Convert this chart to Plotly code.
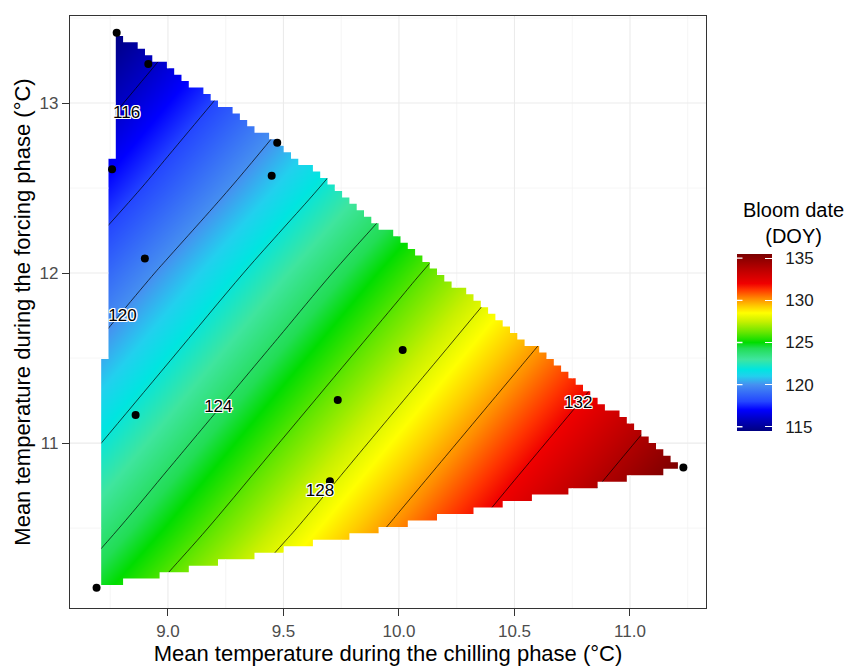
import numpy as np
import plotly.graph_objects as go

# ---------------- data ----------------
# modelled bloom date surface (DOY) on a coarse grid
chill_grid = [8.5, 9.0, 9.5, 10.0, 10.5, 11.0, 11.5]          # °C (x)
force_grid = [10.0, 10.5, 11.0, 11.5, 12.0, 12.5, 13.0, 13.5]  # °C (y)
bloom_grid = [
    [124.2, 126.8, 129.4, 132.0, 134.6, 137.2, 139.8],
    [122.5, 125.1, 127.7, 130.3, 132.9, 135.5, 138.1],
    [120.9, 123.5, 126.1, 128.7, 131.3, 133.9, 136.5],
    [119.3, 121.9, 124.5, 127.1, 129.7, 132.3, 134.9],
    [117.7, 120.3, 122.9, 125.5, 128.1, 130.7, 133.3],
    [116.0, 118.6, 121.2, 123.8, 126.4, 129.0, 131.6],
    [114.4, 117.0, 119.6, 122.2, 124.8, 127.4, 130.0],
    [112.8, 115.4, 118.0, 120.6, 123.2, 125.8, 128.4],
]

# observed seasons (black points)
obs_chill = [8.778, 8.915, 8.758, 9.473, 9.449, 8.900, 8.860, 9.735, 10.016, 9.701, 8.691, 11.231]
obs_force = [13.414, 13.229, 12.610, 12.767, 12.572, 12.086, 11.165, 11.253, 11.547, 10.776, 10.149, 10.857]

# contour labels
label_levels = [116, 120, 124, 128, 132]
label_chill = [8.821, 8.803, 9.218, 9.658, 10.776]
label_force = [12.936, 11.745, 11.209, 10.715, 11.233]

# axis ticks
x_ticks = [9.0, 9.5, 10.0, 10.5, 11.0]
x_minor = [8.75, 9.25, 9.75, 10.25, 10.75, 11.25]
y_ticks = [11, 12, 13]
y_minor = [10.5, 11.5, 12.5, 13.5]
cbar_ticks = [115, 120, 125, 130, 135]

# colour ramp (DOY value -> colour)
ramp_values = [114.5, 116.0, 117.0, 118.0, 120.0, 121.0, 121.8, 123.0, 124.3, 125.0,
               126.2, 127.5, 128.5, 129.3, 130.2, 131.3, 132.0, 133.5, 135.5]
ramp_colors = ["#000080", "#0000C8", "#0000FF", "#2446FF", "#4690F0", "#22D0EE", "#00E5E0",
               "#3FE59E", "#22DD55", "#00DD00", "#66E600", "#C8F000", "#FFFF00", "#FFCC00",
               "#FF8C00", "#FF3300", "#F00000", "#C00000", "#7A0000"]

# ---------------- styling / geometry ----------------
FONT = "Liberation Sans, Arial, sans-serif"
X_RANGE = [8.576, 11.329]
Y_RANGE = [10.03, 13.512]
ZMIN, ZMAX = ramp_values[0], ramp_values[-1]
colorscale = [[(v - ZMIN) / (ZMAX - ZMIN), c] for v, c in zip(ramp_values, ramp_colors)]

# plot area in pixels
M_L, M_R, M_T, M_B = 70, 146, 16, 58
W, H = 852, 666
PW, PH = W - M_L - M_R, H - M_T - M_B

# colour bar geometry
CB_X = (737 - M_L) / PW
CB_LEN = 177
CB_Y = 0.4485
CB_TICK = 7

# raster cell layout of the prediction grid
CELL_X0, CELL_DX, N_COLS = 8.711, 0.0316, 80
CELL_Y0, CELL_DY = 10.127, 0.038

# convex hull of the observations (prediction domain)
pts = sorted(zip(obs_chill, obs_force))


def cross(o, a, b):
    return (a[0] - o[0]) * (b[1] - o[1]) - (a[1] - o[1]) * (b[0] - o[0])


lower, upper = [], []
for p in pts:
    while len(lower) >= 2 and cross(lower[-2], lower[-1], p) <= 0:
        lower.pop()
    lower.append(p)
for p in reversed(pts):
    while len(upper) >= 2 and cross(upper[-2], upper[-1], p) <= 0:
        upper.pop()
    upper.append(p)
upper = upper[::-1]
lo_x, lo_y = np.array(lower).T
up_x, up_y = np.array(upper).T

cols = []  # (x_left, x_right, y_bottom, y_top)
for i in range(N_COLS):
    xl = CELL_X0 + i * CELL_DX
    xr = xl + CELL_DX
    xc = xl + CELL_DX / 2
    if xc < lo_x[0] or xc > lo_x[-1]:
        continue
    ylo = np.interp(xc, lo_x, lo_y)
    yhi = np.interp(xc, up_x, up_y)
    jlo = int(np.ceil((ylo - CELL_Y0) / CELL_DY - 0.5))
    jhi = int(np.floor((yhi - CELL_Y0) / CELL_DY - 0.5))
    if jhi >= jlo:
        cols.append((xl, xr, CELL_Y0 + jlo * CELL_DY, CELL_Y0 + (jhi + 1) * CELL_DY))

xs, xe = cols[0][0], cols[-1][1]
BX0, BX1 = X_RANGE[0] - 1, X_RANGE[1] + 1
BY0, BY1 = Y_RANGE[0] - 1, Y_RANGE[1] + 1
ys = (cols[0][2] + cols[0][3]) / 2

# white mask outside the raster (outer box with a clockwise hole)
mx = [BX0, BX1, BX1, BX0, BX0, xs, xs]
my = [BY0, BY0, BY1, BY1, ys, ys, cols[0][3]]
for xl, xr, yb, yt in cols:
    mx += [xl, xr]
    my += [yt, yt]
for xl, xr, yb, yt in reversed(cols):
    mx += [xr, xl]
    my += [yb, yb]
mx += [xs, BX0, BX0]
my += [ys, ys, BY0]


# grid-line pieces lying outside the raster
def vertical_pieces(values):
    gx, gy = [], []
    for c in values:
        hit = [col for col in cols if col[0] <= c < col[1]]
        if hit:
            _, _, yb, yt = hit[0]
            gx += [c, c, None, c, c, None]
            gy += [BY0, yb, None, yt, BY1, None]
        else:
            gx += [c, c, None]
            gy += [BY0, BY1, None]
    return gx, gy


def horizontal_pieces(values):
    gx, gy = [], []
    for c in values:
        segs = [[BX0, xs]]
        for xl, xr, yb, yt in cols:
            if yb <= c <= yt:
                continue
            if abs(segs[-1][1] - xl) < 1e-9:
                segs[-1][1] = xr
            else:
                segs.append([xl, xr])
        if abs(segs[-1][1] - xe) < 1e-9:
            segs[-1][1] = BX1
        else:
            segs.append([xe, BX1])
        for a, b in segs:
            gx += [a, b, None]
            gy += [c, c, None]
    return gx, gy


MAJOR_GRID = "#EBEBEB"
MINOR_GRID = "#F2F2F2"

fig = go.Figure()

fig.add_trace(go.Heatmap(
    x=chill_grid, y=force_grid, z=bloom_grid, zsmooth="best",
    zmin=ZMIN, zmax=ZMAX, colorscale=colorscale, hoverinfo="skip",
    colorbar=dict(
        x=CB_X, xanchor="left", xpad=0, y=CB_Y, yanchor="middle", ypad=0,
        len=CB_LEN, lenmode="pixels", thickness=35, outlinewidth=0,
        tickvals=cbar_ticks, ticktext=["\u00a0\u00a0" + str(v) for v in cbar_ticks],
        ticks="inside", ticklen=CB_TICK, tickcolor="white", tickwidth=1.3,
        tickfont=dict(family=FONT, size=17, color="#1A1A1A"),
    ),
))

fig.add_trace(go.Contour(
    x=chill_grid, y=force_grid, z=bloom_grid,
    contours=dict(start=116, end=134, size=2, coloring="none", showlabels=False),
    line=dict(color="black", width=0.7), showscale=False, hoverinfo="skip",
))

fig.add_trace(go.Scatter(
    x=mx, y=my, mode="lines", fill="toself", fillcolor="white",
    line=dict(width=0, color="white"), hoverinfo="skip", showlegend=False,
))

gx, gy = vertical_pieces(x_minor)
hx, hy = horizontal_pieces(y_minor)
fig.add_trace(go.Scatter(x=gx + hx, y=gy + hy, mode="lines",
                         line=dict(color=MINOR_GRID, width=0.8),
                         hoverinfo="skip", showlegend=False))
gx, gy = vertical_pieces(x_ticks)
hx, hy = horizontal_pieces(y_ticks)
fig.add_trace(go.Scatter(x=gx + hx, y=gy + hy, mode="lines",
                         line=dict(color=MAJOR_GRID, width=1.1),
                         hoverinfo="skip", showlegend=False))

fig.add_trace(go.Scatter(
    x=obs_chill, y=obs_force, mode="markers",
    marker=dict(color="black", size=8), hoverinfo="skip", showlegend=False,
))

fig.add_trace(go.Scatter(
    x=label_chill, y=label_force, mode="text", text=[str(v) for v in label_levels],
    textfont=dict(family=FONT, size=17, color="black",
                  shadow="1px 1px 0 white, -1px -1px 0 white, 1px -1px 0 white, -1px 1px 0 white, 0 1px 0 white, 0 -1px 0 white, 1px 0 0 white, -1px 0 0 white"),
    hoverinfo="skip", showlegend=False,
))

axis_common = dict(
    automargin=False,
    showline=True, linecolor="#333333", linewidth=1.2, mirror=True,
    ticks="outside", ticklen=7, tickwidth=1, tickcolor="#333333",
    tickfont=dict(family=FONT, size=17, color="#4D4D4D"),
    showgrid=True, gridcolor=MAJOR_GRID, gridwidth=1.1, zeroline=False,
)

# white tick marks on the left edge of the colour bar
left_ticks = []
for v in cbar_ticks:
    py = CB_Y + (v - (ZMIN + ZMAX) / 2) / (ZMAX - ZMIN) * CB_LEN / PH
    left_ticks.append(dict(x=CB_X, y=py, xref="paper", yref="paper", text="",
                           showarrow=True, arrowhead=0, arrowwidth=1.3, arrowcolor="white",
                           ax=CB_TICK, ay=0, standoff=0, startstandoff=0))

fig.update_layout(
    width=W, height=H,
    margin=dict(l=M_L, r=M_R, t=M_T, b=M_B, autoexpand=False),
    paper_bgcolor="white", plot_bgcolor="white",
    font=dict(family=FONT, color="black"),
    showlegend=False,
    xaxis=dict(range=X_RANGE, tickvals=x_ticks, tickformat=".1f",
               title=dict(text="Mean temperature during the chilling phase (°C)",
                          font=dict(size=22, color="black"), standoff=6),
               minor=dict(tickvals=x_minor, showgrid=True, gridcolor=MINOR_GRID, gridwidth=0.8, ticks=""),
               **axis_common),
    yaxis=dict(range=Y_RANGE, tickvals=y_ticks,
               title=dict(text="Mean temperature during the forcing phase (°C)",
                          font=dict(size=22, color="black"), standoff=2),
               minor=dict(tickvals=y_minor, showgrid=True, gridcolor=MINOR_GRID, gridwidth=0.8, ticks=""),
               **axis_common),
    annotations=[
        dict(text="Bloom date<br>(DOY)", x=(793 - M_L) / PW, y=0.6503, xref="paper", yref="paper",
             xanchor="center", yanchor="middle", align="center", showarrow=False,
             font=dict(family=FONT, size=20, color="black")),
    ] + left_ticks,
)

fig.write_html("out.html", config={"displayModeBar": False},
               post_script="document.body.style.margin='0px';document.body.style.padding='0px';")
